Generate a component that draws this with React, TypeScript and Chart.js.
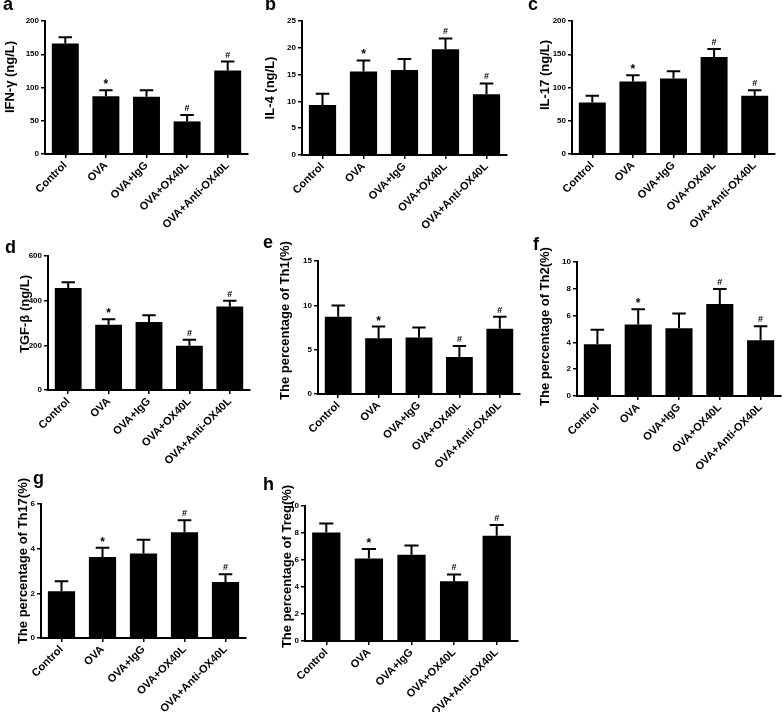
import React, { useEffect, useRef } from "react";
import { Chart, registerables } from "chart.js";
Chart.register(...registerables);

const FONT = 'Arial, "Liberation Sans", Helvetica, sans-serif';

// Categories and significance marks (shared by all panels)
const groups = ["Control", "OVA", "OVA+IgG", "OVA+OX40L", "OVA+Anti-OX40L"];
const marks = ["", "*", "", "#", "#"];

// a: IFN-γ (ng/L)
const ifnMean = [166, 87, 86, 49, 125.5];
const ifnErr = [9.5, 9, 10, 9.5, 13.5];
// b: IL-4 (ng/L)
const il4Mean = [9.35, 15.6, 15.85, 19.75, 11.35];
const il4Err = [2.1, 2.05, 2.05, 2.0, 2.0];
// c: IL-17 (ng/L)
const il17Mean = [77.5, 109, 113.5, 146, 87.5];
const il17Err = [10, 9.5, 11, 12, 8.5];
// d: TGF-β (ng/L)
const tgfMean = [457, 292, 305, 198, 374];
const tgfErr = [25, 25, 30, 27, 26];
// e: Th1 %
const th1Mean = [8.7, 6.3, 6.37, 4.16, 7.35];
const th1Err = [1.27, 1.3, 1.13, 1.24, 1.35];
// f: Th2 %
const th2Mean = [3.87, 5.34, 5.06, 6.86, 4.16];
const th2Err = [1.07, 1.14, 1.1, 1.12, 1.05];
// g: Th17 %
const th17Mean = [2.09, 3.63, 3.78, 4.73, 2.51];
const th17Err = [0.45, 0.41, 0.62, 0.54, 0.34];
// h: Treg %
const tregMean = [8.04, 6.11, 6.39, 4.43, 7.8];
const tregErr = [0.67, 0.7, 0.69, 0.5, 0.79];

// Axis maxima / steps
const yMax = [200, 25, 200, 600, 15, 10, 6, 10];
const yStep = [50, 5, 50, 200, 5, 2, 2, 2];
const yTitles = [
  "IFN-γ (ng/L)",
  "IL-4 (ng/L)",
  "IL-17 (ng/L)",
  "TGF-β (ng/L)",
  "The percentage of Th1(%)",
  "The percentage of Th2(%)",
  "The percentage of Th17(%)",
  "The percentage of Treg(%)",
];
const letters = ["a", "b", "c", "d", "e", "f", "g", "h"];
const means = [ifnMean, il4Mean, il17Mean, tgfMean, th1Mean, th2Mean, th17Mean, tregMean];
const errs = [ifnErr, il4Err, il17Err, tgfErr, th1Err, th2Err, th17Err, tregErr];

// Layout (page pixels): axis x, top-of-axis y, zero y, right end x,
// title offset from axis (d) and upward shift of the title centre (s)
const layout = [
  { ax: 45, top: 21, zero: 154.3, right: 248, d: 35, s: 10.5, lx: 3, ly: 10 },
  { ax: 301.7, top: 20.7, zero: 154.3, right: 507, d: 31.7, s: 0, lx: 265, ly: 10 },
  { ax: 571.7, top: 21, zero: 154.3, right: 775, d: 26.7, s: 12.5, lx: 528, ly: 10 },
  { ax: 48.3, top: 255.7, zero: 390, right: 250.5, d: 23.3, s: 9, lx: 5, ly: 253 },
  { ax: 318.3, top: 260.7, zero: 394, right: 520, d: 33, s: 7, lx: 263, ly: 248 },
  { ax: 577.3, top: 262.3, zero: 396, right: 781.7, d: 32, s: 2.5, lx: 533, ly: 250 },
  { ax: 41, top: 504.3, zero: 638.3, right: 246, d: 18, s: 10, lx: 33, ly: 484 },
  { ax: 305, top: 506, zero: 640.7, right: 517.7, d: 18.3, s: 7, lx: 263, ly: 490 },
];

const PAD_TOP = 32;
const PAD_RIGHT = 4;
const X_H = 80;

const errorPlugin = {
  id: "errbars",
  afterDatasetsDraw(chart: any, _args: any, opts: any) {
    const { ctx } = chart;
    const meta = chart.getDatasetMeta(0);
    const ys = chart.scales.y;
    const data = chart.data.datasets[0].data as number[];
    ctx.save();
    ctx.strokeStyle = "#000";
    ctx.fillStyle = "#000";
    ctx.lineWidth = 2;
    meta.data.forEach((bar: any, i: number) => {
      const topPx = ys.getPixelForValue(data[i] + opts.err[i]);
      const x = bar.x;
      const half = bar.width * 0.25;
      ctx.beginPath();
      ctx.moveTo(x, bar.y);
      ctx.lineTo(x, topPx);
      ctx.moveTo(x - half, topPx);
      ctx.lineTo(x + half, topPx);
      ctx.stroke();
      const m = opts.marks[i];
      if (m) {
        ctx.textAlign = "center";
        ctx.textBaseline = "alphabetic";
        if (m === "*") {
          ctx.font = `bold 12px ${FONT}`;
          ctx.fillText(m, x, topPx - 2);
        } else {
          ctx.font = `bold 9px ${FONT}`;
          ctx.fillText(m, x, topPx - 4);
        }
      }
    });
    ctx.restore();
  },
};

const yTitlePlugin = {
  id: "ytitle",
  afterDraw(chart: any, _args: any, opts: any) {
    const { ctx, chartArea } = chart;
    const cx = chartArea.left - opts.d;
    const cy = (chartArea.top + chartArea.bottom) / 2 - opts.s;
    ctx.save();
    ctx.translate(cx, cy);
    ctx.rotate(-Math.PI / 2);
    ctx.textAlign = "center";
    ctx.textBaseline = "middle";
    ctx.fillStyle = "#000";
    ctx.font = `bold 13px ${FONT}`;
    ctx.fillText(opts.text, 0, 0);
    ctx.restore();
  },
};

function Panel({ idx }: { idx: number }) {
  const ref = useRef<HTMLCanvasElement>(null);
  const L = layout[idx];
  const left = Math.round(L.ax - L.d - 8);
  const wy = Math.round(L.ax) - left;
  const top = Math.round(L.top) - PAD_TOP;
  const areaH = Math.round(L.zero - L.top);
  const areaW = Math.round(L.right - L.ax);
  const width = wy + areaW + PAD_RIGHT;
  const height = PAD_TOP + areaH + X_H;

  useEffect(() => {
    const canvas = ref.current;
    if (!canvas) return;
    const chart = new Chart(canvas, {
      type: "bar",
      data: {
        labels: groups,
        datasets: [
          {
            data: means[idx],
            backgroundColor: "#000",
            borderWidth: 0,
            barPercentage: 0.83,
            categoryPercentage: 0.8,
          },
        ],
      },
      plugins: [errorPlugin, yTitlePlugin],
      options: {
        responsive: false,
        animation: false,
        devicePixelRatio: 1,
        layout: { padding: { top: PAD_TOP, right: PAD_RIGHT, left: 0, bottom: 0 } },
        plugins: {
          legend: { display: false },
          tooltip: { enabled: false },
          errbars: { err: errs[idx], marks },
          ytitle: { text: yTitles[idx], d: Math.round(L.ax) - Math.round(L.ax - L.d), s: L.s },
        } as any,
        scales: {
          x: {
            offset: true,
            ticks: {
              font: { family: FONT, size: 11, weight: "bold" },
              color: "#000",
              minRotation: 45,
              maxRotation: 45,
              autoSkip: false,
              padding: 1,
            },
            grid: {
              display: true,
              offset: false,
              drawOnChartArea: false,
              drawTicks: true,
              tickLength: 4,
              color: "#000",
              lineWidth: 1.5,
            },
            border: { display: true, color: "#000", width: 2 },
            afterFit: (s: any) => {
              s.height = X_H;
            },
          },
          y: {
            min: 0,
            max: yMax[idx],
            ticks: {
              stepSize: yStep[idx],
              font: { family: FONT, size: 8, weight: "bold" },
              color: "#000",
              padding: 2,
            },
            grid: {
              display: true,
              drawOnChartArea: false,
              drawTicks: true,
              tickLength: 4,
              color: "#000",
              lineWidth: 1.5,
            },
            border: { display: true, color: "#000", width: 2 },
            afterFit: (s: any) => {
              s.width = wy;
            },
          },
        },
      } as any,
    });
    return () => chart.destroy();
  }, [idx]);

  return (
    <>
      <canvas
        ref={ref}
        width={width}
        height={height}
        style={{ position: "absolute", left, top, width, height }}
      />
      <div
        style={{
          position: "absolute",
          left: L.lx,
          top: L.ly - 15.2,
          fontFamily: FONT,
          fontWeight: "bold",
          fontSize: 18,
          lineHeight: 1,
          color: "#000",
        }}
      >
        {letters[idx]}
      </div>
    </>
  );
}

export default function App() {
  return (
    <div
      style={{
        position: "absolute",
        left: 0,
        top: 0,
        width: 784,
        height: 712,
        background: "#fff",
        overflow: "hidden",
      }}
    >
      {letters.map((_, i) => (
        <Panel key={i} idx={i} />
      ))}
    </div>
  );
}
